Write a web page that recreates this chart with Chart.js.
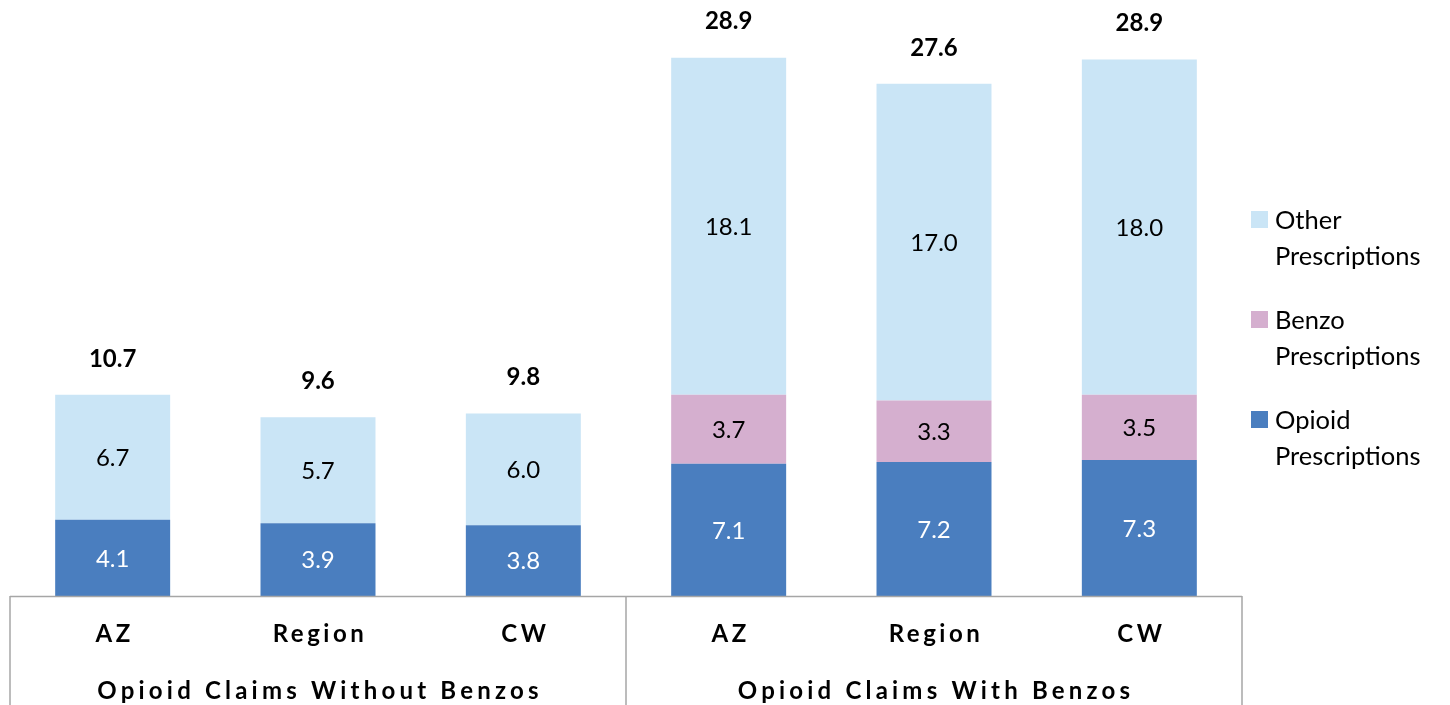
<!DOCTYPE html>
<html>
<head>
<meta charset="utf-8">
<script src="https://cdn.jsdelivr.net/npm/chart.js@4"></script>
<style>
  html, body { margin: 0; padding: 0; background: #fff; }
  #wrap { position: relative; width: 1450px; height: 705px; overflow: hidden; }
  #legend { position: absolute; left: 1251px; top: 201px; font-family: Lato, 'Noto Sans', sans-serif; font-size: 25.5px; color: #000; }
  .lg-item { display: flex; align-items: flex-start; height: 100px; }
  .lg-box { width: 17px; height: 17px; margin-top: 10px; margin-right: 7px; flex: none; }
  .lg-text { line-height: 36px; }
</style>
</head>
<body>
<div id="wrap">
  <canvas id="chart" width="1450" height="705"></canvas>
  <div id="legend"></div>
</div>
<script>
// ── data ──
const categories = ['AZ', 'Region', 'CW', 'AZ', 'Region', 'CW'];
const groups = ['Opioid Claims Without Benzos', 'Opioid Claims With Benzos'];
const opioidVals = [4.1, 3.9, 3.8, 7.1, 7.2, 7.3];
const benzoVals  = [0, 0, 0, 3.7, 3.3, 3.5];
const otherVals  = [6.7, 5.7, 6.0, 18.1, 17.0, 18.0];
const totals     = [10.7, 9.6, 9.8, 28.9, 27.6, 28.9];

const COLORS = { opioid: '#4A7EBF', benzo: '#D5AFCF', other: '#CAE5F6' };
const FONT = "Lato, 'Noto Sans', sans-serif";

// value labels inside segments + totals on top
const labelPlugin = {
  id: 'segLabels',
  afterDatasetsDraw(chart) {
    const ctx = chart.ctx;
    ctx.save();
    ctx.textAlign = 'center';
    ctx.textBaseline = 'middle';
    chart.data.datasets.forEach((ds, di) => {
      const meta = chart.getDatasetMeta(di);
      meta.data.forEach((bar, i) => {
        const v = ds.data[i];
        if (!v) return;
        ctx.font = '24px ' + FONT;
        ctx.fillStyle = di === 0 ? '#fff' : '#000';
        ctx.fillText(v.toFixed(1), bar.x, (bar.y + bar.base) / 2 + 1);
      });
    });
    // totals
    const top = chart.getDatasetMeta(chart.data.datasets.length - 1);
    ctx.font = 'bold 24px ' + FONT;
    ctx.fillStyle = '#000';
    top.data.forEach((bar, i) => {
      ctx.fillText(totals[i].toFixed(1), bar.x, bar.y - 36);
    });
    ctx.restore();
  }
};

// grouped category axis with box lines
const groupAxisPlugin = {
  id: 'groupAxis',
  afterDraw(chart) {
    const ctx = chart.ctx;
    const area = chart.chartArea;
    const x = chart.scales.x;
    const H = chart.height;
    const mid = (x.getPixelForValue(2) + x.getPixelForValue(3)) / 2;
    ctx.save();
    ctx.strokeStyle = '#A6A6A6';
    ctx.lineWidth = 1.5;
    ctx.beginPath();
    ctx.moveTo(area.left, area.bottom + 0.5);
    ctx.lineTo(area.right, area.bottom + 0.5);
    [area.left, mid, area.right].forEach(px => {
      ctx.moveTo(px, area.bottom);
      ctx.lineTo(px, H);
    });
    ctx.stroke();

    ctx.fillStyle = '#000';
    ctx.textAlign = 'center';
    ctx.textBaseline = 'middle';
    ctx.font = 'bold 24px ' + FONT;
    ctx.letterSpacing = '3.5px';
    categories.forEach((c, i) => {
      ctx.fillText(c, x.getPixelForValue(i) + 2, area.bottom + 38);
    });
    ctx.letterSpacing = '4.2px';
    groups.forEach((g, gi) => {
      const cx = (x.getPixelForValue(gi * 3) + x.getPixelForValue(gi * 3 + 2)) / 2;
      ctx.fillText(g, cx + 2, area.bottom + 95);
    });
    ctx.restore();
  }
};

new Chart(document.getElementById('chart'), {
  type: 'bar',
  data: {
    labels: categories,
    datasets: [
      { label: 'Opioid Prescriptions', data: opioidVals, backgroundColor: COLORS.opioid },
      { label: 'Benzo Prescriptions', data: benzoVals, backgroundColor: COLORS.benzo },
      { label: 'Other Prescriptions', data: otherVals, backgroundColor: COLORS.other }
    ]
  },
  options: {
    responsive: false,
    animation: false,
    layout: { padding: { left: 10, right: 208, top: 0, bottom: 101 } },
    datasets: { bar: { categoryPercentage: 1, barPercentage: 0.56 } },
    plugins: { legend: { display: false }, tooltip: { enabled: false } },
    scales: {
      x: { stacked: true, grid: { display: false }, border: { display: false }, ticks: { display: false } },
      y: { stacked: true, min: 0, max: 32, display: false }
    }
  },
  plugins: [labelPlugin, groupAxisPlugin]
});

// legend (reverse order, as in the source)
const legendItems = [
  ['Other', 'Prescriptions', COLORS.other],
  ['Benzo', 'Prescriptions', COLORS.benzo],
  ['Opioid', 'Prescriptions', COLORS.opioid]
];
document.getElementById('legend').innerHTML = legendItems.map(([a, b, c]) =>
  `<div class="lg-item"><div class="lg-box" style="background:${c}"></div><div class="lg-text">${a}<br>${b}</div></div>`
).join('');
</script>
</body>
</html>
